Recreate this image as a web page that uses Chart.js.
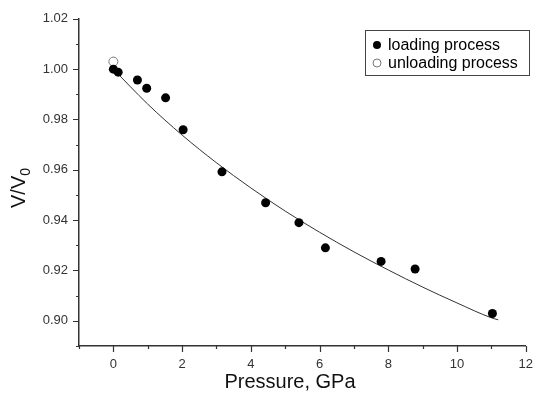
<!DOCTYPE html>
<html>
<head>
<meta charset="utf-8">
<script src="https://cdn.jsdelivr.net/npm/chart.js@4/dist/chart.umd.min.js"></script>
<style>
  html, body { margin: 0; padding: 0; background: #fff; }
  #wrap { width: 544px; height: 397px; }
</style>
</head>
<body>
<div id="wrap"><canvas id="chart" width="544" height="397"></canvas></div>
<script>
const loadingP = [0, 0.14, 0.70, 0.97, 1.52, 2.03, 3.16, 4.43, 5.40, 6.17, 7.79, 8.78, 11.03]
const loadingV = [1.000, 0.9988, 0.9957, 0.9924, 0.9886, 0.9759, 0.9592, 0.9469, 0.9390, 0.9290, 0.9236, 0.9206, 0.9029]
const unloadingP = [0]
const unloadingV = [1.003]
const fitP = [0, 1, 2, 3, 4, 5, 6, 7, 8, 9, 10, 11, 11.2]
const fitV = [1.000, 0.9861, 0.9738, 0.9628, 0.9528, 0.9436, 0.9352, 0.9274, 0.9202, 0.9134, 0.9071, 0.9012, 0.9004]
const xTicks = [0, 2, 4, 6, 8, 10, 12]
const yTicks = [0.90, 0.92, 0.94, 0.96, 0.98, 1.00, 1.02]
const labels = ['loading process', 'unloading process']

const pts = (xs, ys) => xs.map((x, i) => ({x, y: ys[i]}))
const axisColor = '#333'
const font = 'Liberation Sans, Arial, sans-serif'

const extras = {
  id: 'extras',
  afterDraw(chart) {
    const ctx = chart.ctx
    const xs = chart.scales.x
    const ys = chart.scales.y
    const area = chart.chartArea
    ctx.save()
    ctx.strokeStyle = axisColor
    ctx.lineWidth = 1.2
    ctx.beginPath()
    for (let v = -1; v <= 12; v++) {
      const px = Math.round(xs.getPixelForValue(v)) + 0.5
      const len = v % 2 === 0 ? 6 : 3
      ctx.moveTo(px, area.bottom)
      ctx.lineTo(px, area.bottom + len)
    }
    for (let i = 0; i <= 13; i++) {
      const v = 0.89 + i * 0.01
      const py = Math.round(ys.getPixelForValue(v)) + 0.5
      const len = i % 2 === 1 ? 6 : 3
      ctx.moveTo(area.left, py)
      ctx.lineTo(area.left - len, py)
    }
    ctx.stroke()

    // axis titles
    ctx.fillStyle = '#111'
    ctx.font = '20px ' + font
    ctx.textAlign = 'center'
    ctx.textBaseline = 'middle'
    ctx.fillText('Pressure, GPa', 290, 382)

    ctx.translate(25, 188)
    ctx.rotate(-Math.PI / 2)
    ctx.textBaseline = 'alphabetic'
    ctx.textAlign = 'left'
    const main = 'V/V'
    ctx.font = '20px ' + font
    const w = ctx.measureText(main).width
    ctx.font = '14px ' + font
    const w0 = ctx.measureText('0').width
    const start = -(w + w0) / 2
    ctx.font = '20px ' + font
    ctx.fillText(main, start, 0)
    ctx.font = '14px ' + font
    ctx.fillText('0', start + w, 5)
    ctx.setTransform(1, 0, 0, 1, 0, 0)

    // legend
    ctx.strokeStyle = '#444'
    ctx.lineWidth = 1
    ctx.strokeRect(365.5, 30.5, 164, 45)
    ctx.font = '16px ' + font
    ctx.textBaseline = 'middle'
    labels.forEach((t, i) => {
      const y = 45 + i * 18
      ctx.beginPath()
      ctx.arc(377, y, 4, 0, Math.PI * 2)
      if (i === 0) {
        ctx.fillStyle = '#000'
        ctx.fill()
      } else {
        ctx.strokeStyle = '#777'
        ctx.stroke()
      }
      ctx.fillStyle = '#000'
      ctx.fillText(t, 388, y + 1)
    })
    ctx.restore()
  }
}

new Chart(document.getElementById('chart'), {
  type: 'scatter',
  data: {
    datasets: [
      {
        label: labels[0],
        data: pts(loadingP, loadingV),
        pointRadius: 4.5,
        pointBackgroundColor: '#000',
        pointBorderColor: '#000',
        pointBorderWidth: 0
      },
      {
        label: labels[1],
        data: pts(unloadingP, unloadingV),
        pointRadius: 4.5,
        pointBackgroundColor: '#fff',
        pointBorderColor: '#777',
        pointBorderWidth: 1
      },
      {
        label: 'fit',
        data: pts(fitP, fitV),
        showLine: true,
        pointRadius: 0,
        borderColor: '#333',
        borderWidth: 1,
        cubicInterpolationMode: 'monotone'
      }
    ]
  },
  options: {
    responsive: false,
    animation: false,
    layout: { padding: { left: 0, right: 14, top: 15, bottom: 0 } },
    plugins: { legend: { display: false }, tooltip: { enabled: false } },
    scales: {
      x: {
        type: 'linear',
        min: -1,
        max: 12,
        afterBuildTicks: s => { s.ticks = xTicks.map(v => ({value: v})) },
        afterFit: s => { s.height = 51 },
        grid: { display: false, drawTicks: false },
        border: { display: true, color: axisColor, width: 1.5 },
        ticks: { padding: 11, color: '#333', font: { family: font, size: 13 } }
      },
      y: {
        type: 'linear',
        min: 0.89,
        max: 1.02,
        afterBuildTicks: s => { s.ticks = yTicks.map(v => ({value: v})) },
        afterFit: s => { s.width = 79 },
        grid: { display: false, drawTicks: false },
        border: { display: true, color: axisColor, width: 1.5 },
        ticks: {
          padding: 11,
          color: '#333',
          font: { family: font, size: 13 },
          callback: v => v.toFixed(2)
        }
      }
    }
  },
  plugins: [extras]
})
</script>
</body>
</html>
